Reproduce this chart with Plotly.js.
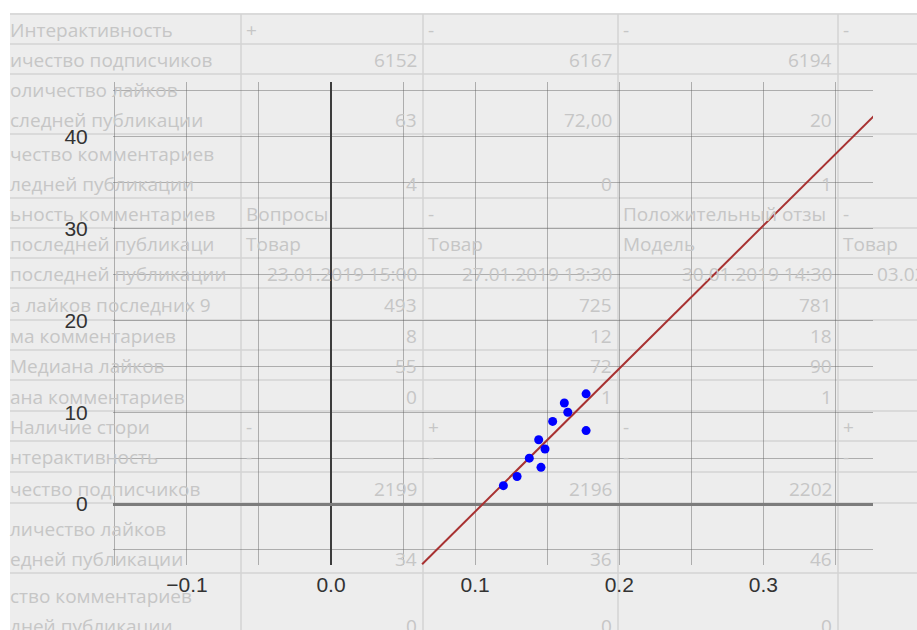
<!DOCTYPE html>
<html><head><meta charset="utf-8">
<script src="https://cdn.plot.ly/plotly-3.0.1.min.js"></script>
<style>html,body{margin:0;padding:0;background:#fff}#chart{width:917px;height:630px}</style>
</head><body><div id="chart"></div>
<script>
// ---- chart data ----
const xVals = [0.1196, 0.1291, 0.1457, 0.1376, 0.1485, 0.1441, 0.1770, 0.1538, 0.1643, 0.1619, 0.1770];
const yVals = [2, 3, 4, 5, 6, 7, 8, 9, 10, 11, 12];
const fitX = [0.0632, 0.3775];
const fitY = [-6.56, 42.4];
const xTickStep = 0.1;
const yTickStep = 10;

// ---- background spreadsheet text ----
const sheetLabels = [
  ["Интерактивность"], ["ичество подписчиков"], ["оличество лайков", "следней публикации"],
  ["чество комментариев", "ледней публикации"], ["ьность комментариев"], ["последней публикаци"],
  ["последней публикации"], ["а лайков последних 9"], ["ма комментариев"], ["Медиана лайков"],
  ["ана комментариев"], ["Наличие стори"], ["нтерактивность"], ["чество подписчиков"],
  ["личество лайков", "едней публикации"], ["ство комментариев", "дней публикации"]
];
const sheetCol1 = ["+", "6152", "63", "4", "Вопросы", "Товар", "23.01.2019 15:00", "493", "8", "55", "0", "-", "-", "2199", "34", "0"];
const sheetCol2 = ["-", "6167", "72,00", "0", "-", "Товар", "27.01.2019 13:30", "725", "12", "72", "1", "+", "-", "2196", "36", "0"];
const sheetCol3 = ["-", "6194", "20", "1", "Положительный отзы", "Модель", "30.01.2019 14:30", "781", "18", "90", "1", "-", "-", "2202", "46", "0"];
const sheetCol4 = ["-", "", "", "", "-", "Товар", "03.02.2019 12:00", "", "", "", "", "+", "-", "", "", ""];

// ---- layout geometry ----
const W = 917, H = 630, L = 113, R = 44, T = 82, B = 65;
const pw = W - L - R, ph = H - T - B;
const px = X => (X - L) / pw;
const py = Y => (H - B - Y) / ph;

const rowEdges = [14, 44, 74, 134, 198, 228, 258, 288, 320, 350, 380, 411, 441, 472, 503, 573, 640];
const colEdges = [241, 423, 618, 838, 1033];
const sheetColor = '#c6c6c6';
const sheetFont = {family: 'Open Sans', size: 19, color: sheetColor};

const shapes = [];
const annotations = [];
shapes.push({type: 'rect', xref: 'paper', yref: 'paper', x0: px(10), x1: px(W + 5), y0: py(13), y1: py(H + 5),
  fillcolor: '#ededed', line: {width: 0}, layer: 'below'});
rowEdges.forEach(y => shapes.push({type: 'line', xref: 'paper', yref: 'paper', x0: px(10), x1: px(W + 5),
  y0: py(y), y1: py(y), line: {color: '#d3d3d3', width: 1.5}, layer: 'below'}));
colEdges.slice(0, 4).forEach(x => shapes.push({type: 'line', xref: 'paper', yref: 'paper', x0: px(x), x1: px(x),
  y0: py(14), y1: py(H + 5), line: {color: '#d3d3d3', width: 1.5}, layer: 'below'}));

function addText(t, X, Y, anchor) {
  if (!t) return;
  annotations.push({text: t, xref: 'paper', yref: 'paper', x: px(X), y: py(Y), xanchor: anchor, yanchor: 'middle',
    showarrow: false, font: sheetFont, borderpad: 0});
}
const cols = [sheetCol1, sheetCol2, sheetCol3, sheetCol4];
sheetLabels.forEach((lab, i) => {
  const top = rowEdges[i], bot = rowEdges[i + 1];
  let yLine;
  if (lab.length === 2) {
    const y2 = bot - 14, y1 = y2 - 30;
    addText(lab[0], 9, y1, 'left');
    addText(lab[1], 9, y2, 'left');
    yLine = y2;
  } else {
    yLine = (top + bot) / 2 + 1;
    addText(lab[0], 9, yLine, 'left');
  }
  cols.forEach((c, j) => {
    const v = c[i];
    const right = /^[0-9.,: ]+$/.test(v);
    if (right) addText(v, colEdges[j + 1] - 5, yLine, 'right');
    else addText(v, colEdges[j] + 4, yLine, 'left');
  });
});
// white strip at top
shapes.push({type: 'rect', xref: 'paper', yref: 'paper', x0: px(-5), x1: px(W + 5), y0: py(13), y1: py(-5),
  fillcolor: '#ffffff', line: {width: 0}, layer: 'below'});

const gridCol = 'rgba(95,95,95,0.45)';
const tickFont = {family: 'Liberation Sans, Arial, sans-serif', size: 21, color: '#333333'};

const traces = [
  {x: fitX, y: fitY, type: 'scatter', mode: 'lines', line: {color: '#a83232', width: 2}, hoverinfo: 'skip'},
  {x: xVals, y: yVals, type: 'scatter', mode: 'markers', marker: {color: '#0000ff', size: 9}}
];

const layout = {
  width: W, height: H,
  margin: {l: L, r: R, t: T, b: B, pad: 0},
  paper_bgcolor: '#ffffff', plot_bgcolor: 'rgba(0,0,0,0)',
  showlegend: false,
  xaxis: {range: [-0.1513, 0.3761], tick0: 0, dtick: xTickStep, tickformat: '.1f',
    showgrid: true, gridcolor: gridCol, gridwidth: 1,
    minor: {dtick: xTickStep / 2, tick0: 0, showgrid: true, gridcolor: gridCol, gridwidth: 1},
    zeroline: true, zerolinecolor: '#3c3c3c', zerolinewidth: 2, showline: false,
    ticks: 'outside', ticklen: 1, tickcolor: 'rgba(0,0,0,0)', tickfont: tickFont},
  yaxis: {range: [-6.64, 45.97], tick0: 0, dtick: yTickStep,
    showgrid: true, gridcolor: gridCol, gridwidth: 1,
    minor: {dtick: yTickStep / 2, tick0: 0, showgrid: true, gridcolor: gridCol, gridwidth: 1},
    zeroline: true, zerolinecolor: '#7c7c7c', zerolinewidth: 3, showline: false,
    ticks: 'outside', ticklen: 20, tickcolor: 'rgba(0,0,0,0)', tickfont: tickFont},
  shapes: shapes,
  annotations: annotations
};
Plotly.newPlot('chart', traces, layout, {staticPlot: true, displayModeBar: false});
</script>
</body></html>
